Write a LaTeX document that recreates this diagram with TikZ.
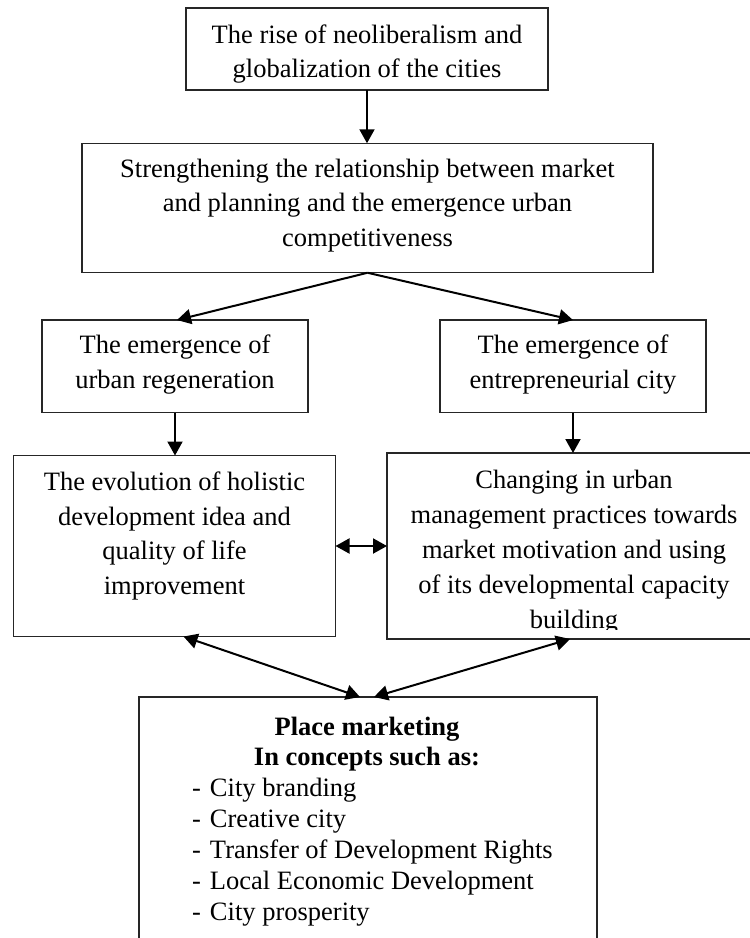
\documentclass[tikz,border=0pt]{standalone}
\usepackage{fontspec}
\setmainfont{Liberation Serif}
\usetikzlibrary{arrows.meta}
\newcommand{\clines}[1]{\begin{tabular}[t]{@{}c@{}}#1\end{tabular}}
\newcommand{\llines}[1]{\begin{tabular}[t]{@{}l@{}}#1\end{tabular}}
\newcommand{\itm}{\makebox[9pt][l]{-}}
\tikzset{
  box/.style={draw=black!85, line width=0.6pt, inner sep=0pt, outer sep=0pt},
  txt/.style={inner sep=0pt, outer sep=0pt, anchor=base, font=\fontsize{13.25pt}{17.25pt}\selectfont},
  txtb/.style={inner sep=0pt, outer sep=0pt, anchor=base, font=\fontsize{13.25pt}{17.5pt}\selectfont},
  hdr/.style={inner sep=0pt, outer sep=0pt, anchor=base, font=\fontsize{13.25pt}{15pt}\selectfont\bfseries},
  lst/.style={inner sep=0pt, outer sep=0pt, anchor=base west, font=\fontsize{13.25pt}{15.5pt}\selectfont},
  arr/.style={line width=1pt, -{Triangle[length=7pt,width=7.5pt]}},
  darr/.style={line width=1pt, {Triangle[length=7pt,width=7.5pt]}-{Triangle[length=7pt,width=7.5pt]}}
}
\begin{document}
\begin{tikzpicture}[x=0.5pt,y=-0.5pt]
\useasboundingbox (0,0) rectangle (750,938);
\clip (0,0) rectangle (750,938);
% boxes
\node[box, minimum width=181pt, minimum height=41pt] (b1) at (367,49) {};
\node[box, minimum width=285.5pt, minimum height=64.75pt] (b2) at (367.5,208) {};
\node[box, minimum width=133pt, minimum height=46.25pt] (b3) at (175,366.3) {};
\node[box, minimum width=133pt, minimum height=46.25pt] (b4) at (573,366.3) {};
\node[box, minimum width=161pt, minimum height=90.5pt] (b5) at (174.5,546) {};
\node[box, minimum width=187pt, minimum height=93pt] (b6) at (574,546) {};
\node[box, minimum width=229pt, minimum height=132pt] (b7) at (368,829) {};
% texts
\node[txt] (t1) at (367,43.3) {\clines{The rise of neoliberalism and\\globalization of the cities}};
\node[txt] (t2) at (367.5,177.3) {\clines{Strengthening the relationship between market\\and planning and the emergence urban\\competitiveness}};
\node[txt] (t3) at (175,353.5) {\clines{The emergence of\\urban regeneration}};
\node[txt] (t4) at (573,353.5) {\clines{The emergence of\\entrepreneurial city}};
\node[txt] (t5) at (174.5,490.7) {\clines{The evolution of holistic\\development idea and\\quality of life\\improvement}};
\begin{scope}
\clip (b6.north west) rectangle ([yshift=4.75pt]b6.south east);
\node[txtb] (t6) at (574,488) {\clines{Changing in urban\\management practices towards\\market motivation and using\\of its developmental capacity\\building}};
\end{scope}
\node[hdr] (t7) at (367,735) {\clines{Place marketing\\In concepts such as:}};
\node[lst] (t8) at (192,796) {\llines{\itm City branding\\\itm Creative city\\\itm Transfer of Development Rights\\\itm Local Economic Development\\\itm City prosperity}};
% connectors
\draw[arr] (b1.south) -- (b1.south |- b2.north);
\draw[arr] (b2.south) -- ([xshift=1pt]b3.north);
\draw[arr] (b2.south) -- (b4.north);
\draw[arr] (b3.south) -- (b3.south |- b5.north);
\draw[arr] (b4.south) -- (b4.south |- b6.north);
\draw[darr] (b5.east) -- (b6.west);
\draw[darr] ([xshift=4.5pt]b5.south) -- ([xshift=-4pt]b7.north);
\draw[darr] ([xshift=-2pt]b6.south) -- ([xshift=3pt]b7.north);
\end{tikzpicture}
\end{document}
